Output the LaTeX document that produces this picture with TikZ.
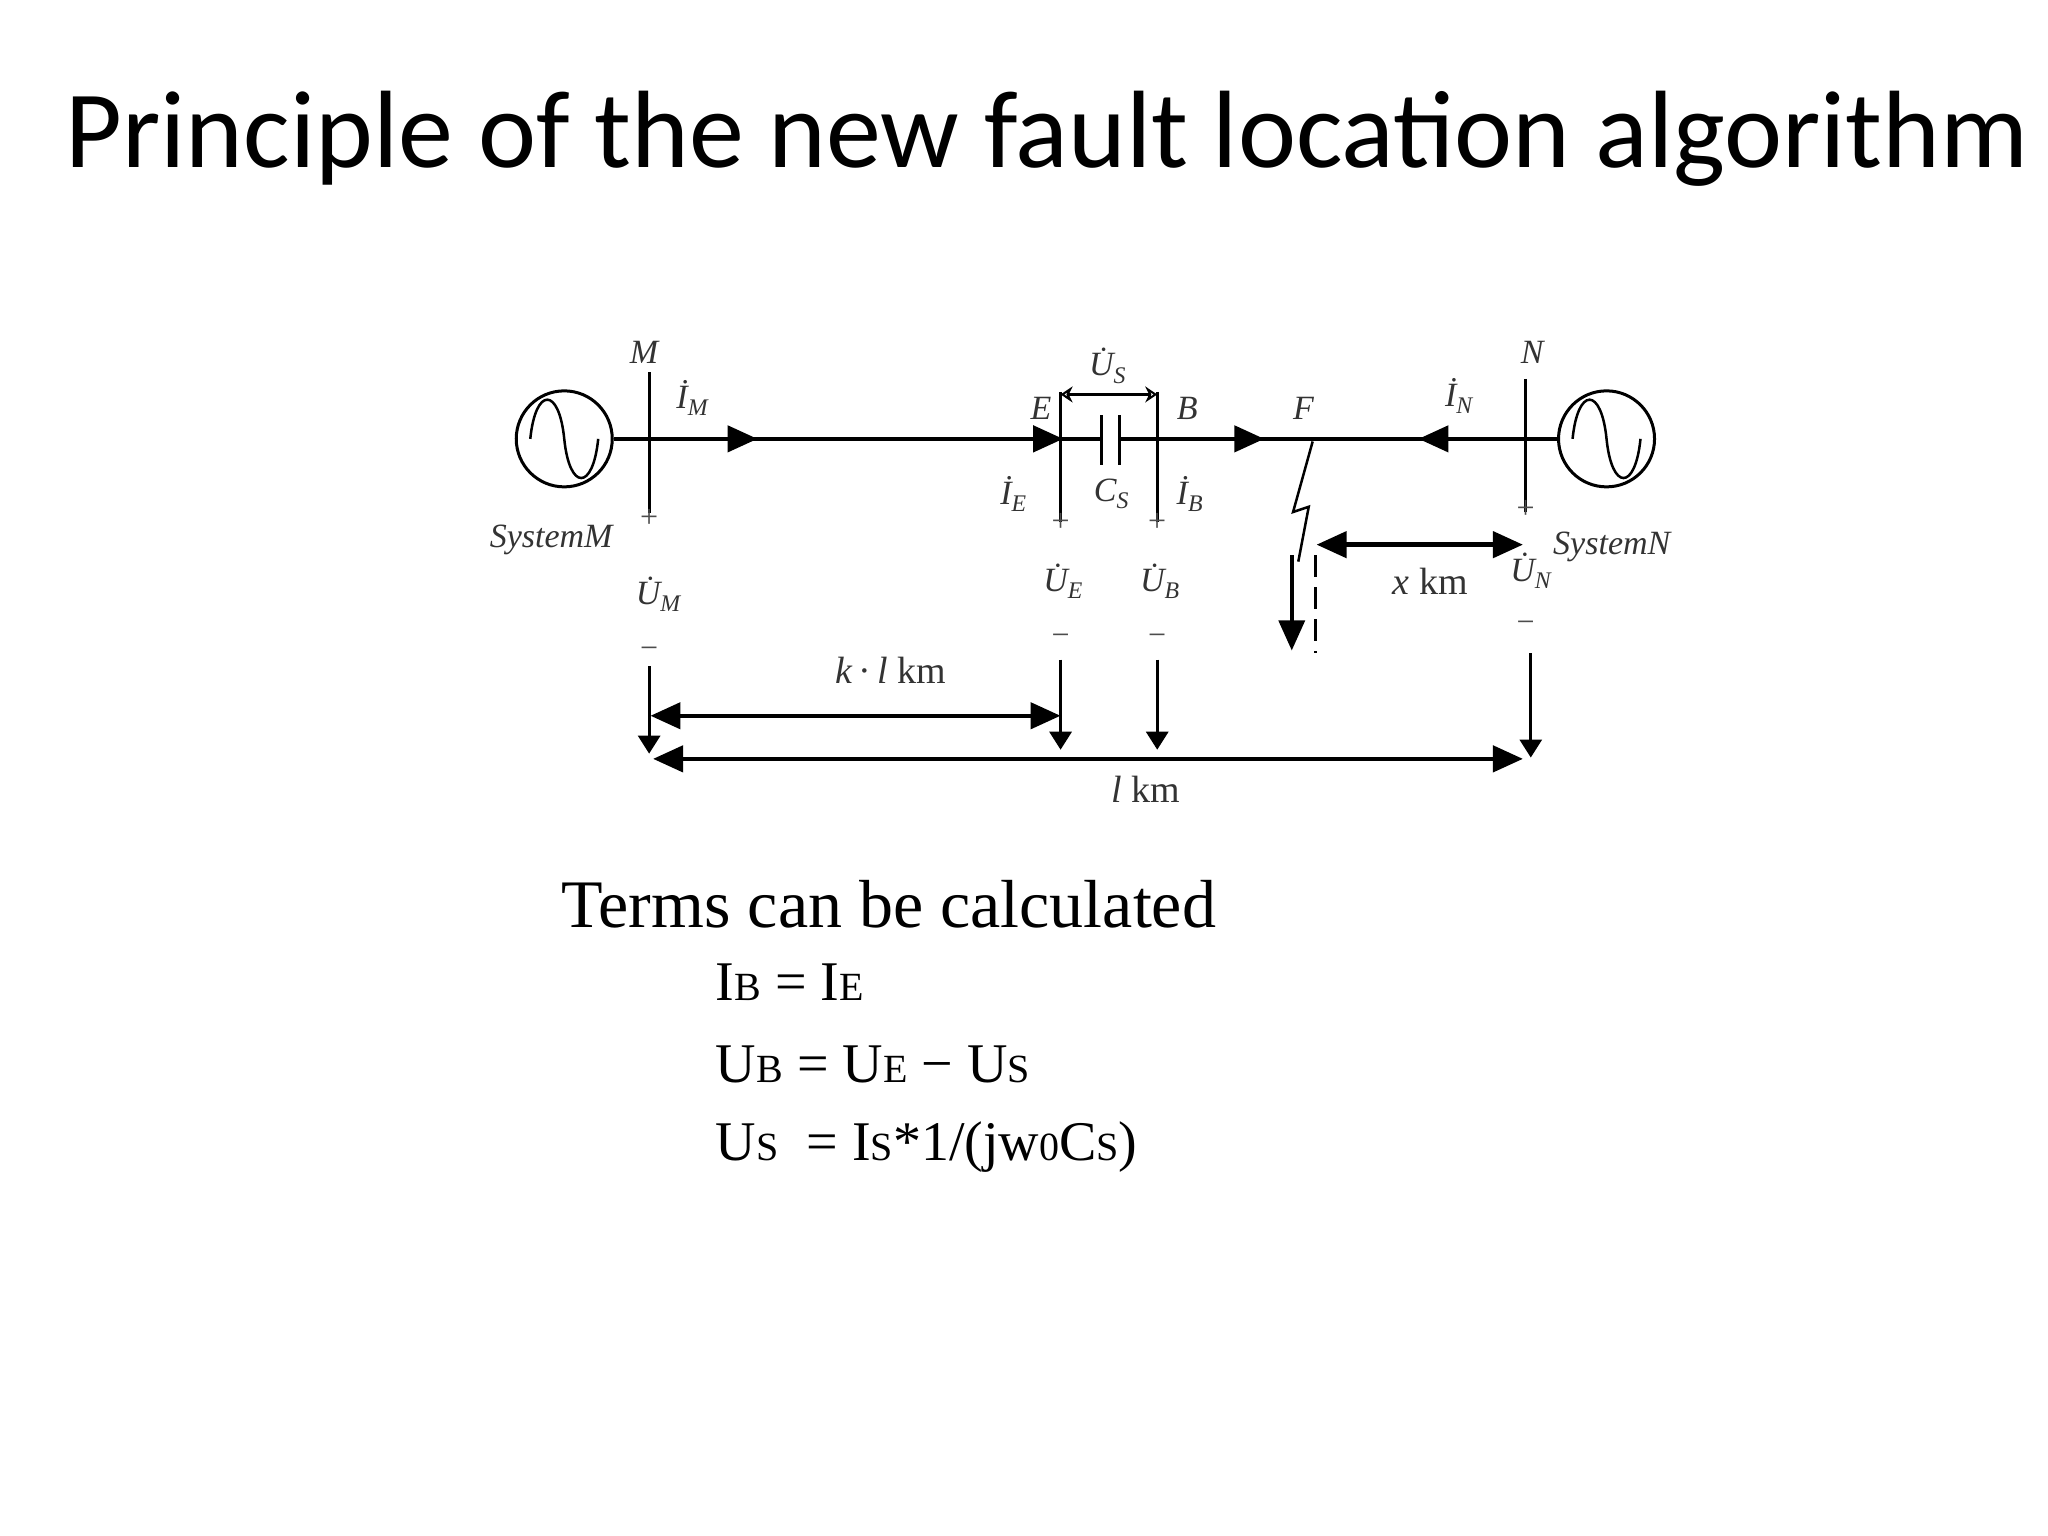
\documentclass[tikz,border=0pt]{standalone}
\usepackage{fontspec}
\setmainfont{Liberation Serif}
\newfontfamily\titlefont{Carlito}
\usetikzlibrary{arrows.meta}
\tikzset{
  wire/.style={line width=4.5pt},
  bus/.style={line width=3pt},
  tip/.style={-{Triangle[length=30pt,width=26pt]}},
  dtip/.style={{Triangle[length=30pt,width=26pt]}-{Triangle[length=30pt,width=26pt]}},
  lbl/.style={font=\fontsize{34}{38}\selectfont\itshape, text=black!80, inner sep=1pt},
  sgn/.style={font=\fontsize{32}{34}\selectfont, text=black!70, inner sep=1pt},
  dim/.style={font=\fontsize{38}{40}\selectfont, text=black!80},
  eq/.style={font=\fontsize{56}{62}\selectfont, anchor=west, inner sep=0pt},
}
\newcommand{\sm}[1]{{\fontsize{40}{42}\selectfont #1}}
\newcommand{\dl}[2]{\.{#1}\textsubscript{#2}}
\begin{document}
\begin{tikzpicture}[x=1.306pt,y=-1.306pt]
\useasboundingbox (0,0) rectangle (1568,1176);
\node[font=\titlefont\fontsize{110}{114}\selectfont, anchor=base west, inner sep=0pt] (title) at (50,128) {Principle of the new fault location algorithm};
% generators
\node[draw, circle, line width=3pt, minimum size=96pt] (gM) at (432,336) {};
\draw[line width=2.5pt] (406,336) .. controls (410,296) and (428,296) .. (432,336) .. controls (436,376) and (454,376) .. (458,336);
\node[draw, circle, line width=3pt, minimum size=96pt] (gN) at (1230,336) {};
\draw[line width=2.5pt] (1204,336) .. controls (1208,296) and (1226,296) .. (1230,336) .. controls (1234,376) and (1252,376) .. (1256,336);
% main line
\draw[wire] (gM.east) -- (843,336);
\draw[wire] (857,336) -- (gN.west);
\draw[wire,tip] (540,336) -- (580,336);
\draw[wire,tip] (780,336) -- (814,336);
\draw[wire,tip] (930,336) -- (968,336);
\draw[wire,tip] (1120,336) -- (1086,336);
% buses
\draw[bus] (497,285) -- (497,393);
\draw[bus] (812,300) -- (812,400);
\draw[bus] (886,300) -- (886,400);
\draw[bus] (1168,290) -- (1168,392);
% capacitor
\draw[bus] (843,318) -- (843,356);
\draw[bus] (857,318) -- (857,356);
% Us arrow
\draw[line width=3.5pt,{Stealth[length=12pt,width=16pt,open]}-{Stealth[length=12pt,width=16pt,open]}] (812,302) -- (886,302);
% labels
\node[lbl] (lM) at (493,270) {M};
\node[lbl] (lN) at (1173,270) {N};
\node[lbl] (lE) at (797,313) {E};
\node[lbl] (lB) at (909,313) {B};
\node[lbl] (lF) at (998,313) {F};
\node[lbl] (lIM) at (530,305) {\dl{I}{M}};
\node[lbl] (lIN) at (1117,303) {\dl{I}{N}};
\node[lbl] (lUs) at (848,280) {\dl{U}{S}};
\node[lbl] (lIE) at (776,378) {\dl{I}{E}};
\node[lbl] (lCs) at (851,378) {C\textsubscript{S}};
\node[lbl] (lIB) at (911,378) {\dl{I}{B}};
\node[lbl] (lUM) at (504,455) {\dl{U}{M}};
\node[lbl] (lUE) at (814,445) {\dl{U}{E}};
\node[lbl] (lUB) at (888,445) {\dl{U}{B}};
\node[lbl] (lUN) at (1172,437) {\dl{U}{N}};
\node[lbl] (sM) at (422,413) {SystemM};
\node[lbl] (sN) at (1234,419) {SystemN};
\node[sgn] (p1) at (497,397) {+};
\node[sgn] (p2) at (812,400) {+};
\node[sgn] (p3) at (886,400) {+};
\node[sgn] (p4) at (1168,390) {+};
\node[sgn] (m1) at (497,500) {−};
\node[sgn] (m2) at (812,490) {−};
\node[sgn] (m3) at (886,490) {−};
\node[sgn] (m4) at (1168,480) {−};
% fault
\draw[line width=2.5pt] (1005,338) -- (990,392) -- (1002,388) -- (994,430);
\draw[line width=3.5pt,tip] (989,425) -- (989,498);
\draw[line width=2.5pt,dashed,dash pattern=on 22pt off 10pt] (1007,425) -- (1007,500);
% down arrows
\draw[line width=3pt,-{Triangle[length=18pt,width=22pt]}] (497,510) -- (497,577);
\draw[line width=3pt,-{Triangle[length=18pt,width=22pt]}] (812,505) -- (812,574);
\draw[line width=3pt,-{Triangle[length=18pt,width=22pt]}] (886,505) -- (886,574);
\draw[line width=3pt,-{Triangle[length=18pt,width=22pt]}] (1172,500) -- (1172,580);
% dimension arrows
\draw[wire,dtip] (498,548) -- (812,548);
\draw[wire,dtip] (500,581) -- (1166,581);
\draw[wire,dtip] (1008,417) -- (1166,417);
\node[dim] (kl) at (682,513) {\textit{k}\,·\,\textit{l} km};
\node[dim] (ll) at (877,604) {\textit{l} km};
\node[dim] (xl) at (1095,445) {\textit{x} km};
% text
\node[font=\fontsize{68}{72}\selectfont, anchor=west, inner sep=0pt] (terms) at (430,692) {Terms can be calculated};
\node[eq] (e1) at (548,752) {I\sm{B} = I\sm{E}};
\node[eq] (e2) at (548,815) {U\sm{B} = U\sm{E} − U\sm{S}};
\node[eq] (e3) at (548,878) {U\sm{S}\ \ = I\sm{S}*1/(jw\sm{0}C\sm{S})};
\end{tikzpicture}
\end{document}
